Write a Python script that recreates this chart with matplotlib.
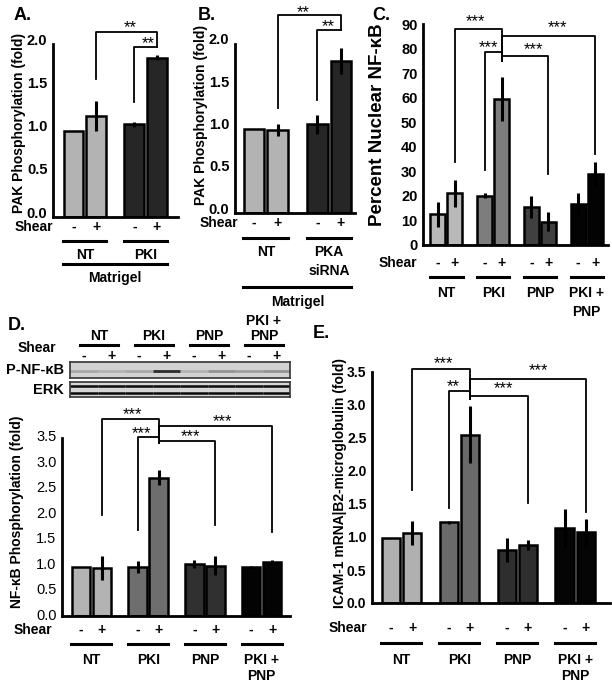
import numpy as np
import matplotlib.pyplot as plt
from matplotlib.transforms import blended_transform_factory, offset_copy, ScaledTranslation

plt.rcParams['font.family'] = ['Liberation Sans', 'DejaVu Sans']

# ---------------- data ----------------
shear_signs = ['-', '+']

a_groups = ['NT', 'PKI']
a_means = [1.00, 1.17, 1.07, 1.84]
a_errs = [0.00, 0.17, 0.03, 0.03]

b_groups = ['NT', 'PKA\nsiRNA']
b_means = [1.00, 0.98, 1.05, 1.80]
b_errs = [0.00, 0.07, 0.11, 0.15]

groups4 = ['NT', 'PKI', 'PNP', 'PKI +\nPNP']

c_means = [12.5, 21.0, 20.0, 59.5, 15.5, 9.5, 16.5, 29.0]
c_errs = [5.0, 5.5, 1.0, 9.0, 4.5, 4.0, 4.5, 5.0]

d_means = [0.96, 0.94, 0.97, 2.72, 1.03, 0.99, 0.97, 1.06]
d_errs = [0.00, 0.24, 0.12, 0.15, 0.08, 0.18, 0.02, 0.05]

e_means = [0.98, 1.06, 1.22, 2.55, 0.80, 0.88, 1.13, 1.07]
e_errs = [0.00, 0.18, 0.02, 0.43, 0.18, 0.07, 0.30, 0.20]

# blot band strength per lane (0 = none, 1 = black)
p_nfkb_band = [0.20, 0.15, 0.20, 0.80, 0.15, 0.30, 0.25, 0.30]
erk_band = [0.95, 0.95, 0.95, 0.95, 0.95, 0.95, 0.95, 0.95]

# significance: (left bar, right bar, top, left leg end, right leg end, label)
a_sig = [(1, 3, 2.14, 1.60, 1.97, '**'), (2, 3, 1.97, 1.33, 1.97, '**')]
b_sig = [(1, 3, 2.34, 1.24, 2.17, '**'), (2, 3, 2.17, 1.34, 2.17, '**')]
c_sig = [(1, 3, 88, 34, 75, '***'), (2, 3, 78.6, 30.5, 75, '***'),
         (3, 5, 77, 75, 29, '***'), (3, 7, 85, 75, 37, '***')]
d_sig = [(1, 3, 3.88, 1.99, 3.40, '***'), (2, 3, 3.52, 1.69, 3.40, '***'),
         (3, 5, 3.44, 3.40, 1.79, '***'), (3, 7, 3.74, 3.40, 1.65, '***')]
e_sig = [(1, 3, 3.55, 1.71, 3.09, '***'), (2, 3, 3.21, 1.44, 3.09, '**'),
         (3, 5, 3.14, 3.09, 1.52, '***'), (3, 7, 3.40, 3.09, 1.38, '***')]

# where the stars sit (data coords)
a_star = [(2.5, 2.19), (3.3, 2.01)]
b_star = [(2.1, 2.37), (3.15, 2.20)]
c_star = [(2.2, 91), (2.95, 80.5), (5.6, 79.5), (7.0, 88.5)]
d_star = [(2.45, 3.95), (2.9, 3.59), (5.2, 3.53), (6.75, 3.83)]
e_star = [(2.5, 3.62), (2.95, 3.28), (5.35, 3.25), (7.0, 3.52)]

# ---------------- figure ----------------
W, H = 612, 685
fig = plt.figure(figsize=(W / 100, H / 100), dpi=100)
fig.patch.set_facecolor('white')


def fig_text(x, y, s, **kw):
    fig.text(x / W, 1 - y / H, s, **kw)


def below(ax, dy, dx=0, xdata=True):
    base = blended_transform_factory(ax.transData if xdata else ax.transAxes, ax.transAxes)
    return offset_copy(base, fig=fig, x=dx, y=-dy, units='dots')


def bar_panel(box, means, errs, colors, gap, xlim, ylim, yticks, fmt,
              tick_size=10.5, tick_weight='bold', tick_lift=0):
    x0, y0, x1, y1 = box
    ax = fig.add_axes([x0 / W, 1 - y1 / H, (x1 - x0) / W, (y1 - y0) / H])
    n = len(means) // 2
    pos = np.array([g * gap + i for g in range(n) for i in range(2)], dtype=float)
    cols = [c for c in colors for _ in range(2)]
    ax.bar(pos, means, width=0.88, color=cols, edgecolor='black', linewidth=1.8, zorder=2)
    ax.errorbar(pos, means, yerr=errs, fmt='none', ecolor='black', elinewidth=2.2,
                capsize=0, zorder=3)
    ax.set_xlim(*xlim)
    ax.set_ylim(*ylim)
    ax.set_xticks([])
    ax.set_yticks(yticks)
    ax.set_yticklabels([fmt.format(t) for t in yticks])
    ax.tick_params(axis='y', length=0, pad=4, labelsize=tick_size)
    lift = ScaledTranslation(0, tick_lift / 100, fig.dpi_scale_trans)
    for lab in ax.get_yticklabels():
        lab.set_fontweight(tick_weight)
        lab.set_transform(lab.get_transform() + lift)
    for s in ['top', 'right']:
        ax.spines[s].set_visible(False)
    for s in ['left', 'bottom']:
        ax.spines[s].set_linewidth(2)
    ax.patch.set_alpha(0)
    return ax, pos


def add_sig(ax, pos, sig, star_xy, size=12):
    for (l, r, top, yl, yr, lab), (tx, ty) in zip(sig, star_xy):
        ax.plot([pos[l], pos[l], pos[r], pos[r]], [yl, top, top, yr], color='black',
                lw=1.3, clip_on=False, zorder=4)
        ax.text(tx, ty, lab, ha='center', va='center', fontsize=size, clip_on=False)


def add_labels(ax, pos, groups, sign_dy, line_dy, label_dy, shear_dx, size=10, spacing=1.45):
    ax.text(0, 0, 'Shear', transform=below(ax, sign_dy, shear_dx, xdata=False),
            ha='right', va='center', fontsize=size, fontweight='bold')
    for p, s in zip(pos, shear_signs * len(groups)):
        ax.text(p, 0, s, transform=below(ax, sign_dy), ha='center', va='center',
                fontsize=size, fontweight='bold')
    for g, name in enumerate(groups):
        a, b = pos[2 * g], pos[2 * g + 1]
        ax.plot([a - 0.45, b + 0.45], [0, 0], transform=below(ax, line_dy), color='black',
                lw=2.2, clip_on=False)
        ax.text((a + b) / 2, 0, name, transform=below(ax, label_dy - 7), ha='center',
                va='top', fontsize=size, fontweight='bold', linespacing=spacing)


# ---------- A ----------
axA, posA = bar_panel((53, 44, 178, 217), a_means, a_errs, ['#b3b3b3', '#262626'], 2.7,
                      (-0.91, 4.64), (0, 2.0), [0, 0.5, 1.0, 1.5, 2.0], '{:.1f}',
                      tick_lift=5)
add_sig(axA, posA, a_sig, a_star)
add_labels(axA, posA, a_groups, 10, 24, 38, 0)
axA.plot([posA[0] - 0.45, posA[-1] + 0.45], [0, 0], transform=below(axA, 47), color='black',
         lw=2.2, clip_on=False)
axA.text((posA[0] + posA[-1]) / 2, 0, 'Matrigel', transform=below(axA, 61), ha='center',
         va='center', fontsize=10, fontweight='bold')
fig_text(19, 123, 'PAK Phosphorylation (fold)', rotation=90, ha='center', va='center',
         fontsize=10, fontweight='bold')
fig_text(14, 15, 'A.', ha='left', va='center', fontsize=13, fontweight='bold')

# ---------- B ----------
axB, posB = bar_panel((235, 44, 355, 213), b_means, b_errs, ['#b3b3b3', '#262626'], 2.7,
                      (-0.81, 4.3), (0, 2.0), [0, 0.5, 1.0, 1.5, 2.0], '{:.1f}',
                      tick_lift=5)
add_sig(axB, posB, b_sig, b_star)
add_labels(axB, posB, b_groups, 10, 25, 39, 3)
axB.plot([posB[0] - 0.45, posB[-1] + 0.45], [0, 0], transform=below(axB, 74), color='black',
         lw=2.2, clip_on=False)
axB.text((posB[0] + posB[-1]) / 2, 0, 'Matrigel', transform=below(axB, 89), ha='center',
         va='center', fontsize=10, fontweight='bold')
fig_text(201, 115, 'PAK Phosphorylation (fold)', rotation=90, ha='center', va='center',
         fontsize=10, fontweight='bold')
fig_text(198, 15, 'B.', ha='left', va='center', fontsize=13, fontweight='bold')

# ---------- C ----------
axC, posC = bar_panel((423, 24, 608, 245), c_means, c_errs,
                      ['#b8b8b8', '#7d7d7d', '#404040', '#030303'], 2.75,
                      (-0.88, 10.0), (0, 90), list(range(0, 91, 10)), '{:d}')
add_sig(axC, posC, c_sig, c_star)
add_labels(axC, posC, groups4, 18, 32, 48, -6)
fig_text(378, 125, 'Percent Nuclear NF-\u03baB', rotation=90, ha='center', va='center',
         fontsize=13.5, fontweight='bold')
fig_text(372, 15, 'C.', ha='left', va='center', fontsize=13, fontweight='bold')

# ---------- D ----------
axD, posD = bar_panel((62, 438, 290, 616), d_means, d_errs,
                      ['#b3b3b3', '#6e6e6e', '#303030', '#030303'], 2.7,
                      (-0.9, 9.95), (0, 3.5), [0, 0.5, 1.0, 1.5, 2.0, 2.5, 3.0, 3.5], '{:.1f}',
                      tick_size=10.5, tick_weight='normal', tick_lift=2)
add_sig(axD, posD, d_sig, d_star)
add_labels(axD, posD, groups4, 14, 28, 44, -10, spacing=1.2)
fig_text(17, 512, 'NF-\u03baB Phosphorylation (fold)', rotation=90, ha='center', va='center',
         fontsize=10, fontweight='bold')
fig_text(8, 326, 'D.', ha='left', va='center', fontsize=13, fontweight='bold')

# blot strips
blot_p = fig.add_axes([70 / W, 1 - 378 / H, 220 / W, 16 / H])
blot_e = fig.add_axes([70 / W, 1 - 397 / H, 220 / W, 15 / H])
for bax in (blot_p, blot_e):
    bax.set_xlim(0, 8)
    bax.set_ylim(0, 1)
    bax.set_xticks([])
    bax.set_yticks([])
    for s in bax.spines.values():
        s.set_linewidth(1.2)
        s.set_color('#333333')
blot_p.set_facecolor('#d2d2d2')
blot_e.set_facecolor('#d6d6d6')
for i, v in enumerate(p_nfkb_band):
    blot_p.plot([i, i + 1], [0.45, 0.45], color='black', alpha=v, lw=2.0,
                solid_capstyle='butt')
for i, v in enumerate(erk_band):
    for yb in (0.72, 0.28):
        blot_e.plot([i, i + 1], [yb, yb], color='black', alpha=v, lw=1.8,
                    solid_capstyle='butt')
fig_text(64, 370, 'P-NF-\u03baB', ha='right', va='center', fontsize=10.5, fontweight='bold')
fig_text(64, 390, 'ERK', ha='right', va='center', fontsize=10.5, fontweight='bold')


def above(ax, dy):
    base = blended_transform_factory(ax.transData, ax.transAxes)
    return offset_copy(base, fig=fig, x=0, y=dy, units='dots')


for i, s in enumerate(shear_signs * 4):
    blot_p.text(i + 0.5, 1, s, transform=above(blot_p, 6), ha='center', va='center',
                fontsize=10, fontweight='bold')
for g, name in enumerate(groups4):
    blot_p.plot([2 * g + 0.35, 2 * g + 1.75], [1, 1], transform=above(blot_p, 17),
                color='black', lw=2.2, clip_on=False)
    blot_p.text(2 * g + 1.05, 1, name, transform=above(blot_p, 19), ha='center',
                va='bottom', fontsize=10, fontweight='bold', linespacing=1.1)
fig_text(56, 348, 'Shear', ha='right', va='center', fontsize=10, fontweight='bold')

# ---------- E ----------
axE, posE = bar_panel((372, 372, 610, 603), e_means, e_errs,
                      ['#b0b0b0', '#6a6a6a', '#2e2e2e', '#050505'], 2.75,
                      (-0.9, 10.4), (0, 3.5), [0, 0.5, 1.0, 1.5, 2.0, 2.5, 3.0, 3.5], '{:.1f}',
                      tick_size=10)
add_sig(axE, posE, e_sig, e_star)
add_labels(axE, posE, groups4, 25, 40, 57, -5, spacing=1.2)
fig_text(340, 483, 'ICAM-1 mRNA|B2-microglobulin (fold)', rotation=90, ha='center',
         va='center', fontsize=10, fontweight='bold')
fig_text(313, 333, 'E.', ha='left', va='center', fontsize=13, fontweight='bold')

fig.savefig('out.png', dpi=100)
